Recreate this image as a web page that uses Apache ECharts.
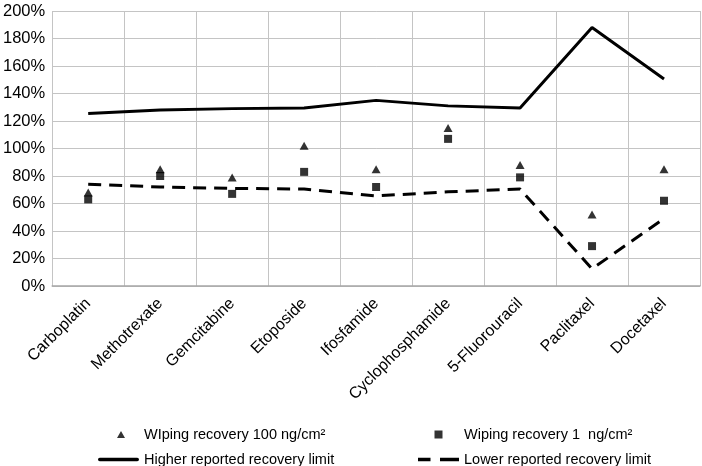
<!DOCTYPE html>
<html>
<head>
<meta charset="utf-8">
<script src="https://cdn.jsdelivr.net/npm/echarts@6/dist/echarts.min.js"></script>
<style>
html,body{margin:0;padding:0;background:#fff;}
#chart{width:702px;height:466px;}
</style>
</head>
<body>
<div id="chart"></div>
<script>
var categories = ['Carboplatin','Methotrexate','Gemcitabine','Etoposide','Ifosfamide','Cyclophosphamide','5-Fluorouracil','Paclitaxel','Docetaxel'];
var recovery100 = [68, 85, 79, 102, 85, 115, 88, 52, 85];
var recovery1 = [63, 80, 67, 83, 72, 107, 79, 29, 62];
var higherLimit = [125.5, 128, 129, 129.5, 135, 131, 129.5, 188, 150.5];
var lowerLimit = [74, 72, 71, 70.5, 65.5, 68.5, 70.5, 12.5, 49];
var yTicks = {min: 0, max: 200, interval: 20};

var name100 = 'WIping recovery 100 ng/cm\u00B2';
var name1 = 'Wiping recovery 1  ng/cm\u00B2';
var nameHigh = 'Higher reported recovery limit';
var nameLow = 'Lower reported recovery limit';

var FONT = '"Liberation Sans", Arial, Helvetica, sans-serif';
var corners = 'M0 0L0.01 0L0 0.01Z M41 14L40.99 14L41 13.99Z ';
var triIcon = 'path://' + corners + 'M23 3.5L27 10.5L19 10.5Z';
var sqIcon = 'path://' + corners + 'M16.5 3L24.5 3L24.5 11L16.5 11Z';
var solidIcon = 'path://' + corners + 'M1.5 5.2L39.5 5.2A1.8 1.8 0 0 1 39.5 8.8L1.5 8.8A1.8 1.8 0 0 1 1.5 5.2Z';
var dashIcon = 'path://' + corners + 'M0 5.3L12.5 5.3L12.5 8.7L0 8.7Z M22 5.3L41 5.3L41 8.7L22 8.7Z';

var legendText = {fontSize: 14.5, color: '#000', fontFamily: FONT, lineHeight: 14};

var chart = echarts.init(document.getElementById('chart'), null, {renderer: 'canvas'});
chart.setOption({
  animation: false,
  backgroundColor: '#fff',
  textStyle: {fontFamily: FONT},
  grid: {left: 50, right: 2, top: 11, bottom: 180, containLabel: false},
  legend: [
    {
      orient: 'vertical', left: 98, top: 427, height: 60, padding: 0, itemGap: 10,
      itemWidth: 41, itemHeight: 14, symbolKeepAspect: true,
      textStyle: legendText,
      data: [{name: name100, icon: triIcon}, {name: nameHigh, icon: solidIcon}]
    },
    {
      orient: 'vertical', left: 418, top: 427, height: 60, padding: 0, itemGap: 10,
      itemWidth: 41, itemHeight: 14, symbolKeepAspect: true,
      textStyle: legendText,
      data: [{name: name1, icon: sqIcon}, {name: nameLow, icon: dashIcon}]
    }
  ],
  xAxis: {
    type: 'category',
    data: categories,
    boundaryGap: true,
    axisLine: {show: true, lineStyle: {color: '#a6a6a6', width: 1.5}},
    axisTick: {show: false},
    axisLabel: {rotate: 45, margin: 15, fontSize: 16, color: '#000', fontFamily: FONT, interval: 0},
    splitLine: {show: true, lineStyle: {color: '#c4c4c4', width: 1}}
  },
  yAxis: {
    type: 'value',
    min: yTicks.min, max: yTicks.max, interval: yTicks.interval,
    axisLine: {show: false},
    axisTick: {show: false},
    axisLabel: {formatter: '{value}%', margin: 7, fontSize: 16.5, color: '#000', fontFamily: FONT},
    splitLine: {show: true, lineStyle: {color: '#c4c4c4', width: 1}}
  },
  series: [
    {
      name: nameHigh, type: 'line', data: higherLimit, symbol: 'none',
      lineStyle: {color: '#000', width: 3}, itemStyle: {color: '#000'}, z: 2
    },
    {
      name: nameLow, type: 'line', data: lowerLimit, symbol: 'none',
      lineStyle: {color: '#000', width: 3, type: [13, 8]}, itemStyle: {color: '#000'}, z: 2
    },
    {
      name: name100, type: 'scatter', data: recovery100, symbol: 'triangle', symbolSize: [9, 8],
      itemStyle: {color: '#000'}, z: 3
    },
    {
      name: name1, type: 'scatter', data: recovery1, symbol: 'rect', symbolSize: 8,
      itemStyle: {color: '#000'}, z: 3
    }
  ]
});
</script>
</body>
</html>
